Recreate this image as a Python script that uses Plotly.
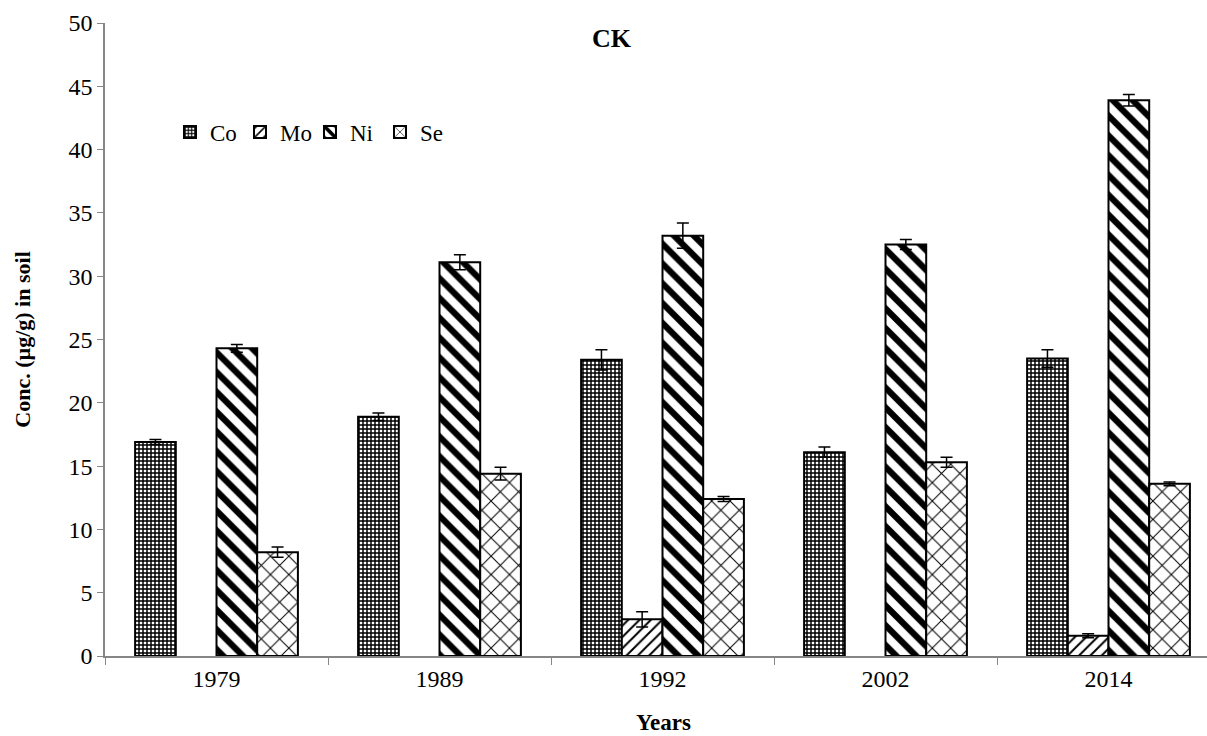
import plotly.graph_objects as go

years = ["1979", "1989", "1992", "2002", "2014"]
co = [16.9, 18.9, 23.4, 16.1, 23.5]
co_err = [0.2, 0.3, 0.8, 0.4, 0.7]
mo = [None, None, 2.9, None, 1.6]
mo_err = [None, None, 0.6, None, 0.15]
ni = [24.3, 31.1, 33.2, 32.5, 43.9]
ni_err = [0.3, 0.6, 1.0, 0.4, 0.45]
se = [8.2, 14.4, 12.4, 15.3, 13.6]
se_err = [0.4, 0.5, 0.2, 0.4, 0.15]

FONT = "Liberation Serif"

def bar(name, vals, errs, shape, size, solidity):
    return go.Bar(
        name=name, x=years, y=vals,
        marker=dict(color="white",
                    line=dict(color="black", width=2),
                    pattern=dict(shape=shape, size=size, solidity=solidity,
                                 fgcolor="black", bgcolor="white", fgopacity=1)),
        error_y=dict(type="data", array=errs, color="black", thickness=1.5, width=6),
    )

fig = go.Figure([
    bar("Co", co, co_err, "+", 4, 0.6),
    bar("Mo", mo, mo_err, "/", 8, 0.25),
    bar("Ni", ni, ni_err, "\\", 14, 0.45),
    bar("Se", se, se_err, "x", 13, 0.15),
])

W, H = 1207, 736
L, R, T, B = 105, 0, 23, 80
PW, PH = W - L - R, H - T - B
fig.update_layout(
    width=W, height=H,
    margin=dict(l=L, r=R, t=T, b=B),
    paper_bgcolor="white", plot_bgcolor="white",
    barmode="group", bargap=0.27, bargroupgap=0,
    font=dict(family=FONT, size=22, color="black"),
    showlegend=True,
    legend=dict(orientation="h", x=(170 - L) / PW, y=(H - B - 132) / PH,
                xanchor="left", yanchor="middle",
                font=dict(family=FONT, size=23), bgcolor="rgba(0,0,0,0)",
                itemwidth=30, tracegroupgap=0,
                entrywidth=25, entrywidthmode="pixels"),
    xaxis=dict(range=[-0.5, -0.5 + PW / 223.0], tickson="boundaries",
               ticks="outside", ticklen=7, tickcolor="#868686",
               showline=True, linecolor="#868686", linewidth=1.5,
               showgrid=False, tickfont=dict(family=FONT, size=24)),
    yaxis=dict(range=[0, 50], dtick=5, ticks="outside", ticklen=6, tickcolor="#868686",
               showline=True, linecolor="#868686", linewidth=1.5,
               showgrid=False, zeroline=False, tickfont=dict(family=FONT, size=24),
               title=dict(text="<b>Conc. (µg/g) in soil</b>", font=dict(family=FONT, size=22),
                          standoff=32)),
    annotations=[
        dict(text="<b>CK</b>", x=(612 - L) / PW, y=(H - B - 38) / PH,
             xref="paper", yref="paper", showarrow=False,
             xanchor="center", yanchor="middle", font=dict(family=FONT, size=26)),
        dict(text="<b>Years</b>", x=(663 - L) / PW, y=-(722 - (H - B)) / PH,
             xref="paper", yref="paper", showarrow=False,
             xanchor="center", yanchor="middle", font=dict(family=FONT, size=23)),
    ],
)

fig.write_html("out.html")
